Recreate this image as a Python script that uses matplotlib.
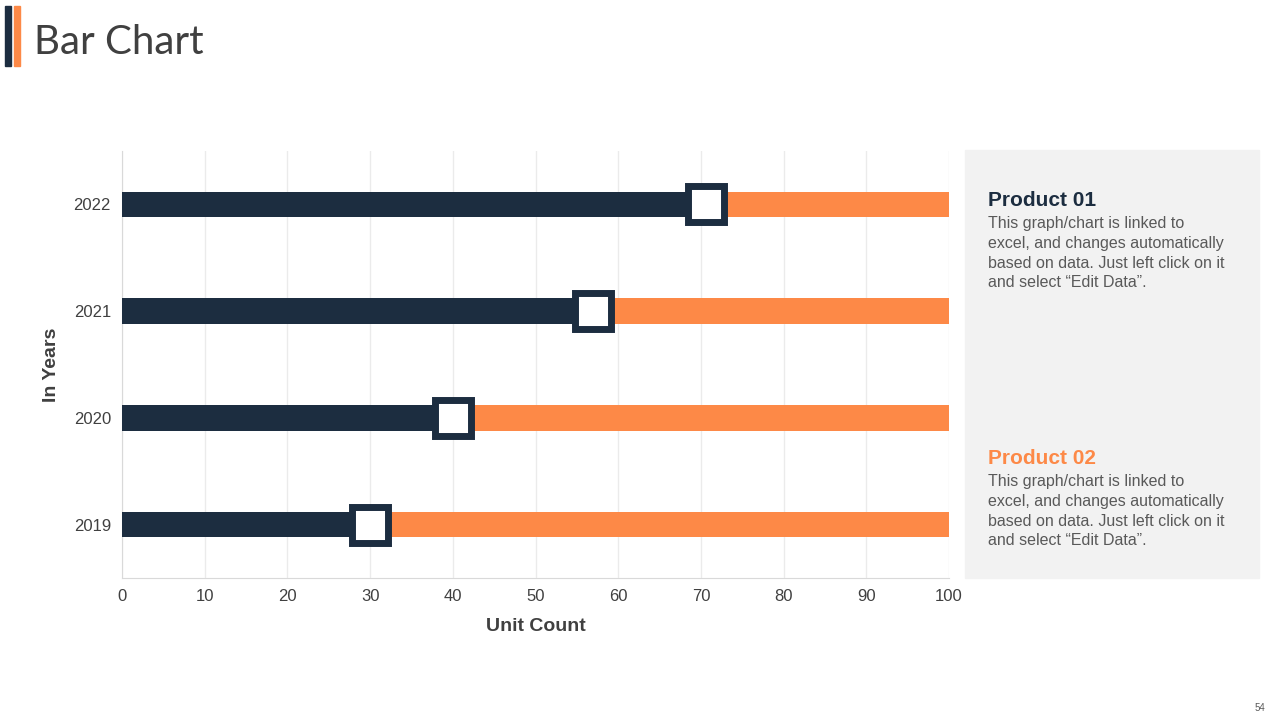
import matplotlib
matplotlib.use('Agg')
import matplotlib.pyplot as plt
from matplotlib.patches import Rectangle

# data
years = ['2019', '2020', '2021', '2022']
product_01 = [30, 40, 57, 70.6]
total = [100, 100, 100, 100]

dark = '#1c2d40'
orange = '#fd8947'
grey_text = '#595959'

plt.rcParams['font.family'] = ['Liberation Sans', 'DejaVu Sans']

fig = plt.figure(figsize=(12.8, 7.2), dpi=100)

# header accents and title
fig.patches.append(Rectangle((5 / 1280, 1 - 66 / 720), 6 / 1280, 60 / 720,
                             transform=fig.transFigure, color=dark))
fig.patches.append(Rectangle((14 / 1280, 1 - 66 / 720), 6 / 1280, 60 / 720,
                             transform=fig.transFigure, color=orange))
fig.text(34 / 1280, 1 - 42 / 720, 'Bar Chart', fontsize=29, color='#404040',
         va='center', ha='left', family=['Lato', 'DejaVu Sans'])

# main chart
ax = fig.add_axes([122 / 1280, 1 - 578 / 720, 827 / 1280, 427 / 720])
ypos = list(range(len(years)))
ax.barh(ypos, total, height=0.24, color=orange, zorder=2)
ax.barh(ypos, product_01, height=0.24, color=dark, zorder=3)
ax.plot(product_01, ypos, linestyle='none', marker='s', markersize=26,
        markerfacecolor='white', markeredgecolor=dark, markeredgewidth=5, zorder=4)

ax.set_xlim(0, 100)
ax.set_ylim(-0.5, 3.5)
ax.set_xticks(range(0, 101, 10))
ax.set_yticks(ypos)
ax.set_yticklabels(years)
ax.tick_params(length=0, labelsize=12, labelcolor='#404040', pad=8)
ax.grid(axis='x', color='#ebebeb', linewidth=1, zorder=0)
for side in ['top', 'right']:
    ax.spines[side].set_visible(False)
for side in ['left', 'bottom']:
    ax.spines[side].set_color('#d9d9d9')
ax.set_xlabel('Unit Count', fontsize=14, fontweight='bold', color='#404040', labelpad=10)
ax.set_ylabel('In Years', fontsize=14, fontweight='bold', color='#404040', labelpad=10)

# side text panel
fig.patches.append(Rectangle((965 / 1280, 1 - 578 / 720), 294 / 1280, 428 / 720,
                             transform=fig.transFigure, color='#f2f2f2'))
body = 'This graph/chart is linked to\nexcel, and changes automatically\nbased on data. Just left click on it\nand select \u201cEdit Data\u201d.'
fig.text(988 / 1280, 1 - 200 / 720, 'Product 01', fontsize=15, fontweight='bold',
         color=dark, va='center', ha='left')
fig.text(988 / 1280, 1 - 216 / 720, body, fontsize=11.5, color=grey_text,
         va='top', ha='left', linespacing=1.4)
fig.text(988 / 1280, 1 - 459 / 720, 'Product 02', fontsize=15, fontweight='bold',
         color=orange, va='center', ha='left')
fig.text(988 / 1280, 1 - 474 / 720, body, fontsize=11.5, color=grey_text,
         va='top', ha='left', linespacing=1.4)

fig.text(1260 / 1280, 1 - 708 / 720, '54', fontsize=7, color='#595959',
         ha='center', va='center')

fig.savefig('out.png', dpi=100)
